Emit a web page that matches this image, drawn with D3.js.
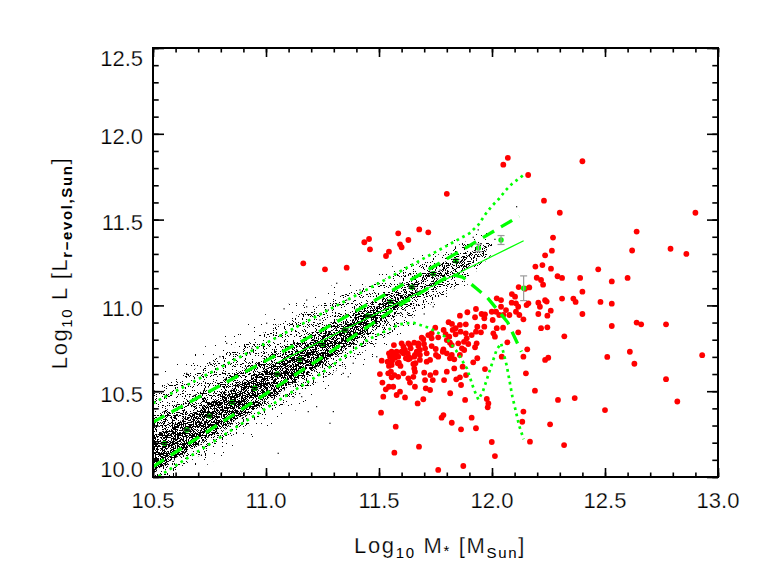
<!DOCTYPE html>
<html><head><meta charset="utf-8">
<script src="https://cdn.jsdelivr.net/npm/d3@7"></script>
<style>html,body{margin:0;padding:0;background:#fff;}svg{display:block;}</style>
</head><body>
<svg id="chart" width="764" height="574"></svg>
<script>
// ---------------- DATA ----------------
const xTicks = [10.5, 11.0, 11.5, 12.0, 12.5, 13.0];
const xTickLabels = ["10.5", "11.0", "11.5", "12.0", "12.5", "13.0"];
const yTicks = [10.0, 10.5, 11.0, 11.5, 12.0, 12.5];
const yTickLabels = ["10.0", "10.5", "11.0", "11.5", "12.0", "12.5"];

// density envelope of the dense black point cloud (log M*, log L)
const cloudX   = [10.50, 10.60, 10.70, 10.80, 10.90, 11.00, 11.10, 11.20, 11.30, 11.40, 11.50, 11.60, 11.70, 11.80, 11.90, 12.00];
const fringeLo = [ 9.90,  9.97, 10.04, 10.12, 10.20, 10.28, 10.36, 10.45, 10.53, 10.62, 10.72, 10.82, 10.93, 11.03, 11.13, 11.28];
const fringeHi = [10.58, 10.66, 10.74, 10.81, 10.88, 10.95, 11.01, 11.07, 11.12, 11.16, 11.20, 11.25, 11.30, 11.36, 11.42, 11.44];
const haloLo   = [ 9.96, 10.04, 10.12, 10.20, 10.28, 10.36, 10.44, 10.53, 10.61, 10.70, 10.79, 10.88, 10.98, 11.07, 11.16, 11.30];
const haloHi   = [10.50, 10.57, 10.64, 10.71, 10.78, 10.85, 10.92, 10.98, 11.04, 11.09, 11.14, 11.20, 11.26, 11.32, 11.38, 11.40];
const bodyLo   = [10.02, 10.10, 10.18, 10.26, 10.35, 10.43, 10.52, 10.60, 10.69, 10.78, 10.87, 10.96, 11.05, 11.13, 11.23, 11.35];
const bodyHi   = [10.35, 10.42, 10.49, 10.56, 10.63, 10.70, 10.77, 10.84, 10.91, 10.98, 11.05, 11.12, 11.19, 11.26, 11.31, 11.35];
const coreLo   = [10.03, 10.11, 10.19, 10.28, 10.36, 10.45, 10.53, 10.62, 10.71, 10.80, 10.90, 11.01, 11.10, 11.19, 11.27, 11.35];
const coreHi   = [10.23, 10.31, 10.39, 10.47, 10.55, 10.63, 10.71, 10.79, 10.86, 10.93, 11.00, 11.05, 11.10, 11.19, 11.27, 11.35];

// isolated black points outside the dense cloud
const cloudOutliers = [
  [10.826,10.779],[11.003,10.896],[11.180,10.992],[11.158,10.468],[11.054,10.138],[11.224,10.410],
  [10.752,10.663],[10.929,10.721],[10.796,10.701],[10.649,10.604],[10.937,10.750],[11.187,10.381],
  [11.298,10.381],[11.342,10.604],[11.364,10.584],[11.283,10.313],[11.180,11.031],[11.313,11.129],
  [11.416,11.090],[11.386,10.663],[11.490,10.701],[11.740,10.992],[11.755,11.158],[11.770,11.206],
  [11.593,11.129],[11.667,11.090],[11.519,11.041],[11.276,10.973],[11.239,10.915],[11.357,11.031],
  [12.109,11.575],[11.917,11.397],[12.013,11.385],[11.939,11.440],[11.910,11.342],[11.820,11.300],
  [11.700,10.950],[11.640,11.180],[11.450,10.790],[11.080,10.980]
];

// binned means with errors
const meanX   = [10.55, 10.65, 10.75, 10.85, 10.95, 11.05, 11.15, 11.25, 11.35, 11.45, 11.55, 11.645, 11.74, 11.84, 11.94, 12.04, 12.14];
const meanY   = [10.196, 10.274, 10.355, 10.435, 10.517, 10.600, 10.686, 10.773, 10.857, 10.938, 11.022, 11.106, 11.185, 11.260, 11.335, 11.381, 11.100];
const meanErr = [0.005, 0.005, 0.005, 0.005, 0.005, 0.005, 0.005, 0.005, 0.005, 0.005, 0.006, 0.006, 0.007, 0.008, 0.022, 0.026, 0.072];

// green relations
const fitLine      = [[11.05,10.665],[12.14,11.377]];
const upperDashed  = [[10.50,10.32],[11.24,10.85],[11.59,11.11],[11.89,11.34],[12.12,11.52]];
const lowerDashed  = [[10.50,10.06],[11.24,10.69],[11.59,11.00],[11.82,11.18],[11.87,11.165],[11.93,11.10],[11.98,11.045],[12.07,10.90],[12.13,10.73]];
const upperDotted  = [[10.50,10.43],[11.00,10.78],[11.50,11.13],[11.90,11.42],[11.94,11.47],[11.97,11.53],[12.00,11.58],[12.03,11.62],[12.06,11.67],[12.09,11.71],[12.12,11.74],[12.14,11.76]];
const lowerDotted  = [[10.50,9.985],[10.52,10.00],[11.24,10.60],[11.45,10.80],[11.59,10.89],[11.65,10.90],[11.72,10.87],[11.79,10.82],[11.84,10.74],[11.89,10.63],[11.92,10.51],[11.94,10.45],[11.96,10.50],[11.99,10.62],[12.02,10.74],[12.04,10.78],[12.065,10.65],[12.09,10.47],[12.12,10.30],[12.14,10.22]];

// red galaxies (log M*, log L)
const redGalaxies = [
  [12.07,11.86],[12.05,11.82],[12.40,11.84],[11.80,11.65],[12.16,11.76],[12.23,11.61],[12.30,11.54],[12.90,11.54],
  [11.585,11.42],[11.678,11.443],[11.718,11.426],[11.63,11.381],[11.593,11.356],[11.60,11.339],[11.544,11.313],[11.531,11.288],
  [11.435,11.368],[11.456,11.387],[11.46,11.327],[11.165,11.245],[11.261,11.21],[11.357,11.22],
  [12.27,11.395],[12.265,11.319],[12.235,11.292],[12.192,11.226],[12.223,11.235],[12.261,11.214],
  [12.64,11.43],[12.62,11.32],[12.79,11.33],[12.86,11.30],[12.47,11.21],
  [12.29,11.17],[12.31,11.16],[12.39,11.16],[12.60,11.16],[12.53,11.14],
  [12.198,11.161],[12.217,11.148],[12.226,11.121],[12.118,11.107],[12.146,11.097],[12.165,11.105],[12.088,11.066],[12.102,11.051],
  [12.021,11.041],[12.04,11.031],[12.235,11.03],[12.40,11.08],[12.31,11.04],[12.36,11.04],[12.37,11.02],[12.48,11.02],[12.53,11.01],
  [12.40,10.95],[12.53,10.88],[12.64,10.90],[12.66,10.89],[12.77,10.89],[12.32,10.82],
  [12.61,10.73],[12.51,10.70],[12.93,10.71],[12.63,10.66],[12.77,10.57],[12.50,10.39],[12.82,10.44],
  [11.929,10.979],[11.969,10.948],[11.966,10.925],[11.925,10.931],[11.999,10.963],[12.04,10.992],[12.062,10.973],[12.077,10.944],
  [12.087,11.016],[12.106,11.012],[12.116,10.992],[12.153,11.002],[12.161,11.012],[12.205,11.016],[12.212,10.992],[12.242,11.022],
  [12.26,10.969],[12.205,10.95],[12.245,10.94],[12.139,10.919],[12.121,10.944],[12.05,10.944],[12.032,10.944],[12.018,10.963],
  [12.003,10.915],[11.966,10.876],[11.929,10.847],[11.91,10.827],[11.951,10.843],[12.006,10.837],[12.013,10.818],
  [12.049,10.87],[12.116,10.843],[12.068,10.785],[12.217,10.867],[12.245,10.872],
  [11.932,10.779],[11.925,10.756],[12.156,10.744],[12.139,10.701],[12.043,10.701],[12.235,10.682],[12.249,10.695],[11.935,10.692],
  [11.917,10.668],[11.969,10.629],[12.15,10.604],[12.19,10.503],[12.292,10.449],[12.366,10.46],[11.977,10.455],[11.984,10.429],
  [11.981,10.406],[11.91,10.346],[11.929,10.284],[12.139,10.381],[12.134,10.322],[12.257,10.307],[12.168,10.206],[11.999,10.204],
  [12.013,10.122],[12.319,10.186],
  [11.858,10.94],[11.891,10.96],[11.954,10.95],[12.106,10.963],[11.808,10.902],[11.823,10.892],[11.858,10.886],[11.935,10.876],
  [12.021,10.867],[11.749,10.87],[11.839,10.867],[11.884,10.89],
  [11.786,10.857],[11.826,10.857],[11.795,10.832],[11.839,10.832],[11.861,10.847],[11.884,10.837],[11.888,10.808],[11.876,10.788],
  [11.851,10.779],[11.822,10.769],[11.80,10.798],[11.762,10.814],[11.733,10.808],[11.689,10.812],[11.718,10.827],[11.674,10.779],
  [11.699,10.775],[11.782,10.73],[11.659,10.711],[11.63,10.701],[11.608,10.721],[11.566,10.769],[11.561,10.711],[11.585,10.701],
  [11.549,10.666],[11.652,10.659],[11.711,10.672],[11.752,10.711],[11.822,10.711],[11.877,10.74],[11.895,10.775],[11.541,10.604],
  [11.608,10.604],[11.885,10.594],[11.867,10.75],[11.811,10.818],[11.814,10.783],[11.696,10.803],[11.733,10.837],
  [11.600,10.779],[11.630,10.779],[11.637,10.769],[11.656,10.783],[11.674,10.763],[11.608,10.759],[11.615,10.740],[11.640,10.750],
  [11.681,10.740],[11.704,10.750],[11.733,10.763],[11.751,10.746],[11.785,10.744],[11.800,10.721],[11.711,10.721],[11.681,10.711],
  [11.667,10.730],[11.627,10.721],[11.600,10.730],[11.556,10.730],[11.544,10.721],[11.568,10.721],[11.578,10.730],[11.549,10.701],
  [11.571,10.695],[11.619,10.692],[11.637,10.692],[11.656,10.701],[11.538,10.672],[11.558,10.678],[11.512,10.678],[11.583,10.663],
  [11.630,10.686],[11.681,10.682],[11.726,10.682],[11.762,10.701],[11.814,10.692],[11.833,10.686],[11.858,10.711],[11.661,10.663],
  [11.588,10.666],[11.595,10.647],[11.556,10.653],[11.544,10.647],[11.504,10.600],[11.553,10.614],[11.568,10.594],[11.585,10.584],
  [11.556,10.581],[11.656,10.633],[11.659,10.614],[11.652,10.584],[11.630,10.575],[11.700,10.608],[11.727,10.594],[11.751,10.608],
  [11.800,10.614],[11.833,10.633],[11.870,10.643],[11.515,10.550],[11.530,10.511],[11.544,10.526],[11.519,10.468],[11.563,10.526],
  [11.578,10.478],[11.593,10.497],[11.615,10.464],[11.637,10.550],[11.659,10.526],[11.704,10.565],[11.707,10.517],[11.726,10.507],
  [11.738,10.565],[11.788,10.565],[11.842,10.569],[11.858,10.581],[11.863,10.536],[11.881,10.449],[11.815,10.488],[11.696,10.453],
  [11.671,10.429],[11.509,10.375],[11.574,10.293],[11.777,10.346],[11.785,10.361],[11.822,10.316],[11.863,10.278],[11.677,10.177],
  [11.568,10.142],[11.873,10.064],[11.762,10.041]
];

// ---------------- DRAWING ----------------
const svg = d3.select("#chart");
const L = 153, R = 718, T = 48, B = 477;
const x = d3.scaleLinear().domain([10.5, 13.0]).range([L, R]);
const y = d3.scaleLinear().domain([10.0, 12.5]).range([B, T]);
const GREEN = "#00ff00", RED = "#ff0000";
const FONT = "'Liberation Sans', Arial, Helvetica, sans-serif";

const defs = svg.append("defs");
defs.append("clipPath").attr("id", "plotclip").append("rect")
  .attr("x", L).attr("y", T).attr("width", R - L).attr("height", B - T);

// speckle texture (rendering style): noise thresholded into 1-px dots
function speckleFilter(id, seed, threshold) {
  const f = defs.append("filter").attr("id", id).attr("filterUnits", "userSpaceOnUse")
    .attr("x", L).attr("y", T).attr("width", R - L).attr("height", B - T)
    .attr("color-interpolation-filters", "sRGB");
  f.append("feTurbulence").attr("type", "fractalNoise").attr("baseFrequency", 0.9)
    .attr("numOctaves", 1).attr("seed", seed).attr("result", "n");
  f.append("feColorMatrix").attr("in", "n").attr("type", "matrix")
    .attr("values", "0 0 0 0 0  0 0 0 0 0  0 0 0 0 0  1 0 0 0 0").attr("result", "a");
  const n = 50, k = Math.round(threshold * n);
  const table = Array.from({length: n}, (_, i) => (i < k ? 0 : 1)).join(" ");
  f.append("feComponentTransfer").attr("in", "a").attr("result", "t")
    .append("feFuncA").attr("type", "discrete").attr("tableValues", table);
  f.append("feComposite").attr("in", "SourceGraphic").attr("in2", "t").attr("operator", "in");
}
speckleFilter("spFringe", 11, 0.72);
speckleFilter("spHalo", 23, 0.64);
speckleFilter("spBody", 37, 0.58);
speckleFilter("spCore", 51, 0.52);

const plot = svg.append("g").attr("clip-path", "url(#plotclip)");

const band = (lo, hi) => d3.area()
  .x((d, i) => x(cloudX[i])).y0((d, i) => y(lo[i])).y1((d, i) => y(hi[i]))
  .curve(d3.curveMonotoneX)(cloudX);
[["spFringe", fringeLo, fringeHi], ["spHalo", haloLo, haloHi], ["spBody", bodyLo, bodyHi], ["spCore", coreLo, coreHi]]
  .forEach(([f, lo, hi]) => {
    plot.append("g").attr("filter", `url(#${f})`)
      .append("path").attr("d", band(lo, hi)).attr("fill", "#000");
  });

plot.append("g").selectAll("rect").data(cloudOutliers).join("rect")
  .attr("x", d => x(d[0]) - 0.6).attr("y", d => y(d[1]) - 0.6)
  .attr("width", 1.2).attr("height", 1.2).attr("fill", "#000");

// red galaxies
plot.append("g").selectAll("circle").data(redGalaxies).join("circle")
  .attr("cx", d => x(d[0])).attr("cy", d => y(d[1])).attr("r", 2.9).attr("fill", RED);

// green lines
const line = d3.line().x(d => x(d[0])).y(d => y(d[1]));
plot.append("path").attr("d", line(upperDotted)).attr("fill", "none").attr("stroke", GREEN)
  .attr("stroke-width", 2.7).attr("stroke-dasharray", "2.7,3.8");
plot.append("path").attr("d", line(lowerDotted)).attr("fill", "none").attr("stroke", GREEN)
  .attr("stroke-width", 2.7).attr("stroke-dasharray", "2.7,3.8");
plot.append("path").attr("d", line(upperDashed)).attr("fill", "none").attr("stroke", GREEN)
  .attr("stroke-width", 3.3).attr("stroke-dasharray", "13,8");
plot.append("path").attr("d", line(lowerDashed)).attr("fill", "none").attr("stroke", GREEN)
  .attr("stroke-width", 3.3).attr("stroke-dasharray", "13,8");
plot.append("path").attr("d", line(fitLine)).attr("fill", "none").attr("stroke", GREEN)
  .attr("stroke-width", 1.2);

// binned means
const mg = plot.append("g");
meanX.forEach((mx, i) => {
  const cx = x(mx), y0 = y(meanY[i] - meanErr[i]), y1 = y(meanY[i] + meanErr[i]);
  const col = meanErr[i] > 0.015 ? "#9a9a9a" : "#000";
  mg.append("circle").attr("cx", cx).attr("cy", y(meanY[i])).attr("r", 2.7).attr("fill", GREEN);
  mg.append("line").attr("x1", cx).attr("x2", cx).attr("y1", y0).attr("y2", y1).attr("stroke", col).attr("stroke-width", 1.2);
  [y0, y1].forEach(yy => mg.append("line").attr("x1", cx - 3.5).attr("x2", cx + 3.5)
    .attr("y1", yy).attr("y2", yy).attr("stroke", col).attr("stroke-width", 1.2));
});

// axes (ticks inward on all four sides)
const xMinor = d3.range(10.5, 13.0001, 0.1);
const yMinor = d3.range(10.0, 12.5001, 0.1);
function axisG(gen, tx, ty) {
  const g = svg.append("g").attr("transform", `translate(${tx},${ty})`).call(gen);
  g.select(".domain").remove();
  g.selectAll("text").remove();
  g.selectAll("line").attr("stroke", "#000").attr("stroke-width", 1.6);
  return g;
}
axisG(d3.axisBottom(x).tickValues(xTicks).tickSize(-9).tickFormat(""), 0, B);
axisG(d3.axisBottom(x).tickValues(xMinor).tickSize(-4.5).tickFormat(""), 0, B);
axisG(d3.axisTop(x).tickValues(xTicks).tickSize(-9).tickFormat(""), 0, T);
axisG(d3.axisTop(x).tickValues(xMinor).tickSize(-4.5).tickFormat(""), 0, T);
axisG(d3.axisLeft(y).tickValues(yTicks).tickSize(-11).tickFormat(""), L, 0);
axisG(d3.axisLeft(y).tickValues(yMinor).tickSize(-5.7).tickFormat(""), L, 0);
axisG(d3.axisRight(y).tickValues(yTicks).tickSize(-11).tickFormat(""), R, 0);
axisG(d3.axisRight(y).tickValues(yMinor).tickSize(-5.7).tickFormat(""), R, 0);

svg.append("rect").attr("x", L).attr("y", T).attr("width", R - L).attr("height", B - T)
  .attr("fill", "none").attr("stroke", "#000").attr("stroke-width", 2);

// thin text look: a very fine white outline over the glyphs
const thin = sel => sel.attr("stroke", "#fff").attr("stroke-width", 0.25);

// tick labels
svg.append("g").selectAll("text").data(xTicks).join("text")
  .attr("x", d => x(d)).attr("y", 508).attr("text-anchor", "middle")
  .attr("font-family", FONT).attr("font-size", 22).attr("fill", "#000")
  .call(thin)
  .text((d, i) => xTickLabels[i]);
svg.append("g").selectAll("text").data(yTicks).join("text")
  .attr("x", 143)
  .attr("y", (d, i) => i === 0 ? y(d) - 0.5 : (i === yTicks.length - 1 ? y(d) + 18 : y(d) + 10.5))
  .attr("text-anchor", "end")
  .attr("font-family", FONT).attr("font-size", 22).attr("fill", "#000")
  .call(thin)
  .text((d, i) => yTickLabels[i]);

// axis titles
function title(parts, attrs, target) {
  const t = svg.append("text").attr("font-family", FONT).attr("font-size", 22)
    .attr("text-anchor", "middle").attr("fill", "#000").call(thin);
  Object.entries(attrs).forEach(([k, v]) => t.attr(k, v));
  let cur = 0, nChars = 0;
  parts.forEach(p => {
    const s = t.append("tspan").text(p.t);
    if (p.sub) s.attr("font-size", p.fs || 15).attr("stroke", "none");
    if (p.bold) s.attr("font-weight", "bold");
    const shift = (p.dy || 0) - cur;
    if (shift) s.attr("dy", shift);
    cur = p.dy || 0;
    nChars += p.t.length;
  });
  const w0 = t.node().getComputedTextLength();
  t.attr("letter-spacing", ((target - w0) / nChars).toFixed(2));
  return t;
}
title([
  {t: "Log"}, {t: "10", sub: true, dy: 5}, {t: " M"}, {t: "*", sub: true, dy: 3},
  {t: " [M"}, {t: "Sun", sub: true, dy: 5}, {t: "]"}
], {x: 440, y: 553}, 172);
title([
  {t: "Log"}, {t: "10", sub: true, dy: 5}, {t: " L  [L"}, {t: "r\u2212evol,Sun", sub: true, dy: 5, bold: true}, {t: "]"}
], {transform: "translate(67,263) rotate(-90)"}, 214);
</script>
</body></html>
